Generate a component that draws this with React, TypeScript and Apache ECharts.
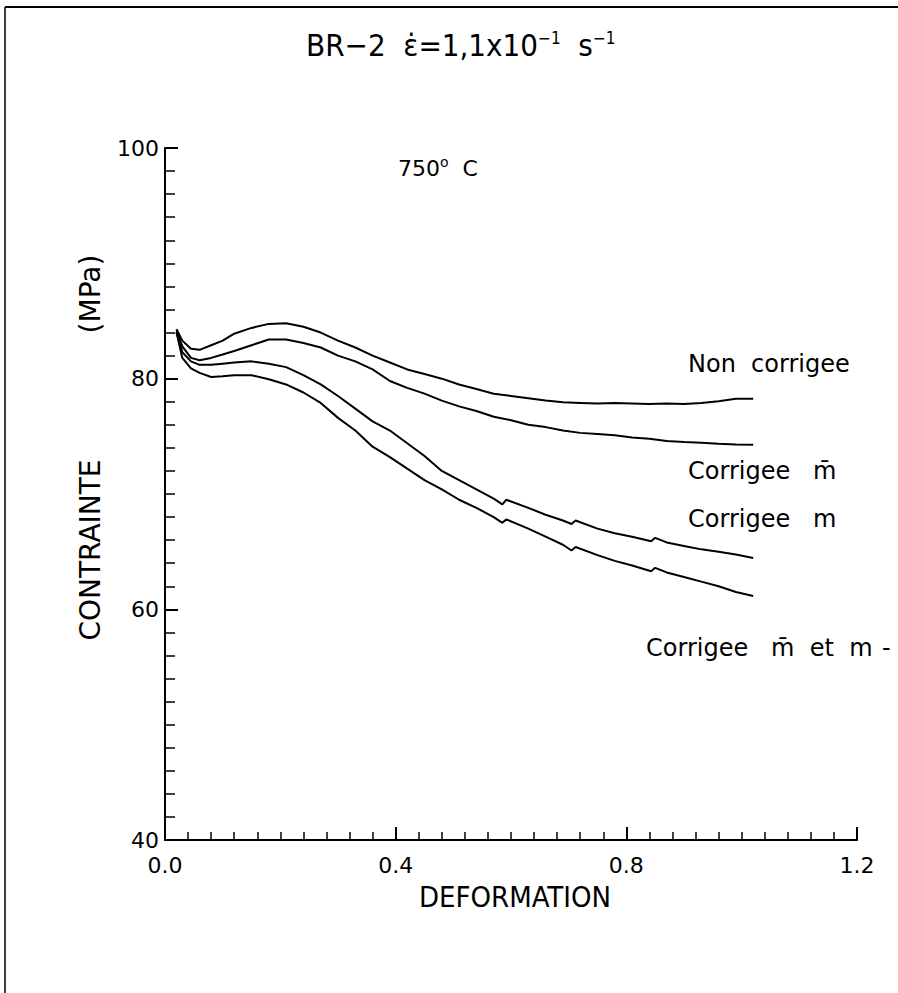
import React, { useEffect, useRef } from "react";
import * as echarts from "echarts";

// Strain values for the two upper curves
const deformationUpper = [
  0.02, 0.03, 0.045, 0.06, 0.08, 0.1, 0.12, 0.15, 0.18, 0.21, 0.24, 0.27, 0.3,
  0.33, 0.36, 0.39, 0.42, 0.45, 0.48, 0.51, 0.54, 0.57, 0.6, 0.63, 0.66, 0.69,
  0.72, 0.75, 0.78, 0.81, 0.84, 0.87, 0.9, 0.93, 0.96, 0.99, 1.02,
];
// Strain values for the two lower curves (with their small steps)
const deformationLower = [
  0.02, 0.03, 0.045, 0.06, 0.08, 0.1, 0.12, 0.15, 0.18, 0.21, 0.24, 0.27, 0.3,
  0.33, 0.36, 0.39, 0.42, 0.45, 0.48, 0.51, 0.54, 0.57, 0.585, 0.592, 0.63, 0.66,
  0.69, 0.705, 0.712, 0.75, 0.78, 0.81, 0.843, 0.85, 0.87, 0.9, 0.93, 0.96, 0.99,
  1.02,
];

// Stress (MPa)
const nonCorrigee = [
  84.3, 83.3, 82.6, 82.5, 82.9, 83.3, 83.9, 84.4, 84.75, 84.8, 84.5, 84.0, 83.3,
  82.7, 82.0, 81.4, 80.8, 80.4, 80.0, 79.5, 79.1, 78.7, 78.5, 78.3, 78.1, 77.95,
  77.9, 77.85, 77.9, 77.85, 77.8, 77.85, 77.8, 77.9, 78.05, 78.25, 78.25,
];
const corrigeeMBar = [
  84.2, 82.8, 81.8, 81.6, 81.8, 82.1, 82.4, 82.9, 83.4, 83.4, 83.1, 82.7, 82.0,
  81.5, 80.8, 79.8, 79.2, 78.7, 78.1, 77.6, 77.2, 76.7, 76.4, 76.0, 75.8, 75.5,
  75.3, 75.2, 75.1, 74.9, 74.8, 74.6, 74.5, 74.45, 74.35, 74.3, 74.26,
];
const corrigeeM = [
  84.0, 82.3, 81.5, 81.2, 81.2, 81.3, 81.4, 81.5, 81.3, 81.0, 80.3, 79.5, 78.5,
  77.4, 76.3, 75.5, 74.4, 73.3, 72.0, 71.2, 70.4, 69.6, 69.1, 69.5, 68.8, 68.2,
  67.7, 67.4, 67.7, 67.0, 66.6, 66.3, 65.9, 66.2, 65.8, 65.5, 65.2, 65.0, 64.75,
  64.46,
];
const corrigeeMBarEtM = [
  84.0, 81.8, 80.9, 80.5, 80.15, 80.2, 80.3, 80.3, 79.95, 79.5, 78.8, 77.9, 76.6,
  75.5, 74.1, 73.2, 72.2, 71.2, 70.4, 69.5, 68.8, 68.0, 67.5, 67.8, 67.0, 66.3,
  65.6, 65.1, 65.4, 64.7, 64.2, 63.8, 63.3, 63.6, 63.2, 62.8, 62.4, 62.0, 61.5,
  61.16,
];

const seriesList = [
  { name: "Non corrigee", xs: deformationUpper, values: nonCorrigee },
  { name: "Corrigee m̄", xs: deformationUpper, values: corrigeeMBar },
  { name: "Corrigee m", xs: deformationLower, values: corrigeeM },
  { name: "Corrigee m̄ et m", xs: deformationLower, values: corrigeeMBarEtM },
];

const FONT = "'DejaVu Sans', 'Liberation Sans', sans-serif";
const NARROW = "'DejaVu Sans Condensed', 'Liberation Sans Narrow', 'DejaVu Sans', sans-serif";

export default function App() {
  const ref = useRef<HTMLDivElement>(null);

  useEffect(() => {
    document.body.style.margin = "0";
    const chart = echarts.init(ref.current!, null, { renderer: "svg" });

    const label = { fill: "#000", fontFamily: FONT, fontSize: 24, verticalAlign: "middle" };

    chart.setOption({
      animation: false,
      backgroundColor: "#fff",
      grid: { left: 165, top: 148, width: 692, height: 692 },
      xAxis: {
        type: "value",
        min: 0,
        max: 1.2,
        interval: 0.4,
        axisLine: { lineStyle: { color: "#000", width: 2 } },
        axisTick: { inside: true, length: 13, lineStyle: { color: "#000", width: 2 } },
        minorTick: { show: true, splitNumber: 10, length: 8, lineStyle: { color: "#000", width: 1.5 } },
        splitLine: { show: false },
        axisLabel: {
          color: "#000",
          fontFamily: FONT,
          fontSize: 22,
          margin: 14,
          formatter: (v: number) => v.toFixed(1),
        },
      },
      yAxis: {
        type: "value",
        min: 40,
        max: 100,
        interval: 20,
        axisLine: { lineStyle: { color: "#000", width: 2 } },
        axisTick: { inside: true, length: 13, lineStyle: { color: "#000", width: 2 } },
        minorTick: { show: true, splitNumber: 10, length: 10, lineStyle: { color: "#000", width: 1.5 } },
        splitLine: { show: false },
        axisLabel: { color: "#000", fontFamily: FONT, fontSize: 22, margin: 6 },
      },
      series: seriesList.map((s) => ({
        name: s.name,
        type: "line",
        showSymbol: false,
        data: s.xs.map((x, i) => [x, s.values[i]]),
        lineStyle: { color: "#000", width: 2 },
      })),
      graphic: [
        { type: "line", shape: { x1: 5, y1: 7, x2: 898, y2: 7 }, style: { stroke: "#000", lineWidth: 2 } },
        { type: "line", shape: { x1: 5, y1: 7, x2: 5, y2: 993 }, style: { stroke: "#000", lineWidth: 1.5 } },
        {
          type: "text",
          x: 306,
          y: 45,
          style: {
            text: "BR−2  {e|ε̇}=1,1x10{s|−1}  s{s|−1}",
            fontFamily: NARROW,
            fontSize: 31,
            fill: "#000",
            align: "left",
            verticalAlign: "middle",
            rich: {
              e: { fontFamily: NARROW, fontSize: 31, fill: "#000" },
              s: { fontFamily: NARROW, fontSize: 17, fill: "#000", verticalAlign: "top", padding: [0, 0, 15, 0] },
            },
          },
        },
        {
          type: "text",
          x: 398,
          y: 168,
          style: {
            text: "750{s|o}  C",
            fill: "#000",
            fontFamily: FONT,
            fontSize: 22,
            align: "left",
            verticalAlign: "middle",
            rich: { s: { fontFamily: FONT, fontSize: 14, fill: "#000", verticalAlign: "top", padding: [0, 0, 12, 0] } },
          },
        },
        { type: "text", x: 688, y: 364, style: { text: "Non  corrigee", ...label } },
        { type: "text", x: 688, y: 471, style: { text: "Corrigee   m̄", ...label } },
        { type: "text", x: 688, y: 519, style: { text: "Corrigee   m", ...label } },
        { type: "text", x: 646, y: 648, style: { text: "Corrigee   m̄  et  m", ...label } },
        { type: "text", x: 882, y: 648, style: { text: "-", ...label } },
        {
          type: "text",
          x: 90,
          y: 294,
          rotation: Math.PI / 2,
          style: { text: "(MPa)", ...label, fontSize: 28, align: "center" },
        },
        {
          type: "text",
          x: 90,
          y: 550,
          rotation: Math.PI / 2,
          style: { text: "CONTRAINTE", ...label, fontSize: 28, align: "center" },
        },
        {
          type: "text",
          x: 515,
          y: 897,
          style: { text: "DEFORMATION", fontFamily: NARROW, fontSize: 29, fill: "#000", align: "center", verticalAlign: "middle" },
        },
      ],
    });

    return () => chart.dispose();
  }, []);

  return <div ref={ref} style={{ width: 898, height: 993 }} />;
}
